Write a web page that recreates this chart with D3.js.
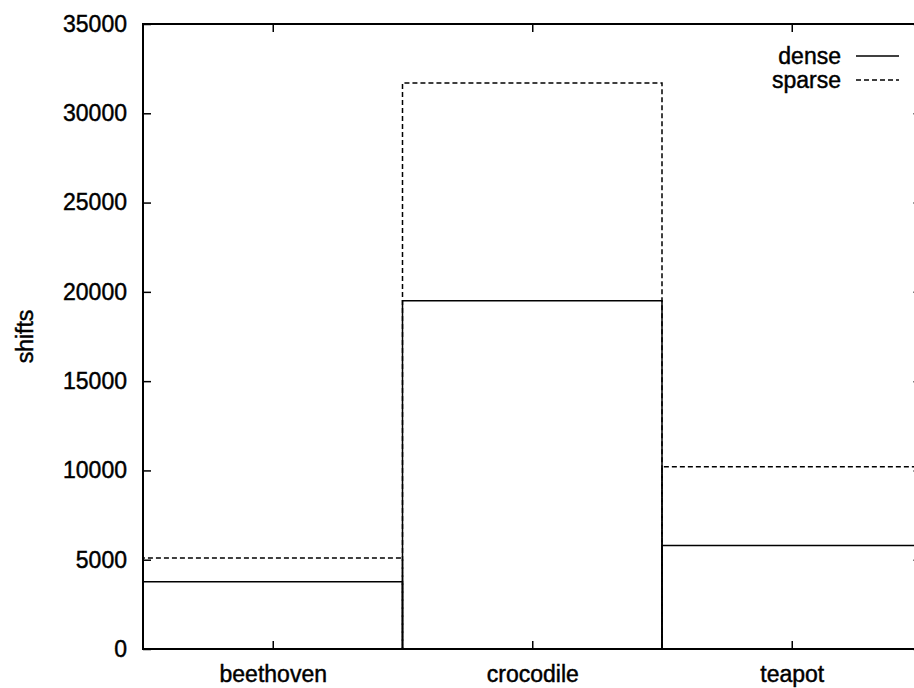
<!DOCTYPE html>
<html>
<head>
<meta charset="utf-8">
<script src="https://cdn.jsdelivr.net/npm/d3@7"></script>
<style>
  body { margin: 0; background: #fff; }
  svg { display: block; }
  text { font-family: "Liberation Sans", Arial, Helvetica, sans-serif; fill: #000; stroke: #000; stroke-width: 0.45px; }
</style>
</head>
<body>
<svg id="chart" width="914" height="688"></svg>
<script>
const categories = ["beethoven", "crocodile", "teapot"];
const denseValues = [3770, 19500, 5800];
const sparseValues = [5100, 31700, 10200];
const yTicks = [0, 5000, 10000, 15000, 20000, 25000, 30000, 35000];
const seriesNames = ["dense", "sparse"];

(function () {
const svg = d3.select("#chart");
const pLeft = 143, pRight = 921.5, pTop = 24, pBottom = 649;
const fs = 23;

const x = d3.scaleLinear().domain([-0.5, categories.length - 0.5]).range([pLeft, pRight]);
const y = d3.scaleLinear().domain([0, 35000]).range([pBottom, pTop]);

// Boxes
function drawBoxes(values, dash, cls) {
  svg.append("g").attr("class", cls)
    .selectAll("path").data(values).join("path")
    .attr("d", (v, i) => {
      const x0 = x(i - 0.5), x1 = x(i + 0.5), y0 = y(0), y1 = y(v);
      return `M${x0},${y0}V${y1}H${x1}V${y0}`;
    })
    .attr("fill", "none")
    .attr("stroke", "#000")
    .attr("stroke-width", 1.5)
    .attr("stroke-dasharray", dash);
}
drawBoxes(sparseValues, "5,3", "sparse");
drawBoxes(denseValues, null, "dense");

// Axes
const tickLen = 8;
const yAxis = d3.axisLeft(y).tickValues(yTicks).tickSize(-tickLen).tickPadding(16).tickFormat(d3.format("d"));
const gy = svg.append("g").attr("transform", `translate(${pLeft},0)`).call(yAxis);
const yAxisR = d3.axisRight(y).tickValues(yTicks).tickSize(-tickLen).tickFormat("");
const gyr = svg.append("g").attr("transform", `translate(${pRight},0)`).call(yAxisR);

const xTickVals = categories.map((c, i) => i);
const xAxis = d3.axisBottom(x).tickValues(xTickVals).tickSize(-tickLen).tickPadding(17).tickFormat(i => categories[i]);
const gx = svg.append("g").attr("transform", `translate(0,${pBottom})`).call(xAxis);
const xAxisT = d3.axisTop(x).tickValues(xTickVals).tickSize(-tickLen).tickFormat("");
const gxt = svg.append("g").attr("transform", `translate(0,${pTop})`).call(xAxisT);

[gy, gyr, gx, gxt].forEach(g => {
  g.select(".domain").remove();
  g.selectAll(".tick line").attr("stroke", "#000").attr("stroke-width", 1.5);
  g.selectAll(".tick text").attr("font-size", fs).attr("font-family", "Liberation Sans, Arial, sans-serif").attr("fill", "#000");
});

// Frame
svg.append("rect")
  .attr("x", pLeft).attr("y", pTop)
  .attr("width", pRight - pLeft).attr("height", pBottom - pTop)
  .attr("fill", "none").attr("stroke", "#000").attr("stroke-width", 2);

// Y label
svg.append("text")
  .attr("transform", `translate(33,${(pTop + pBottom) / 2}) rotate(-90)`)
  .attr("text-anchor", "middle")
  .attr("font-size", fs)
  .text("shifts");

// Legend
const legend = svg.append("g");
seriesNames.forEach((name, i) => {
  const ly = 56 + i * 24;
  legend.append("text")
    .attr("x", 841).attr("y", ly + 8)
    .attr("text-anchor", "end")
    .attr("font-size", fs)
    .text(name);
  legend.append("line")
    .attr("x1", 856).attr("x2", 899)
    .attr("y1", ly).attr("y2", ly)
    .attr("stroke", "#000").attr("stroke-width", 1.5)
    .attr("stroke-dasharray", i === 1 ? "5,3" : null);
});
})();
</script>
</body>
</html>
